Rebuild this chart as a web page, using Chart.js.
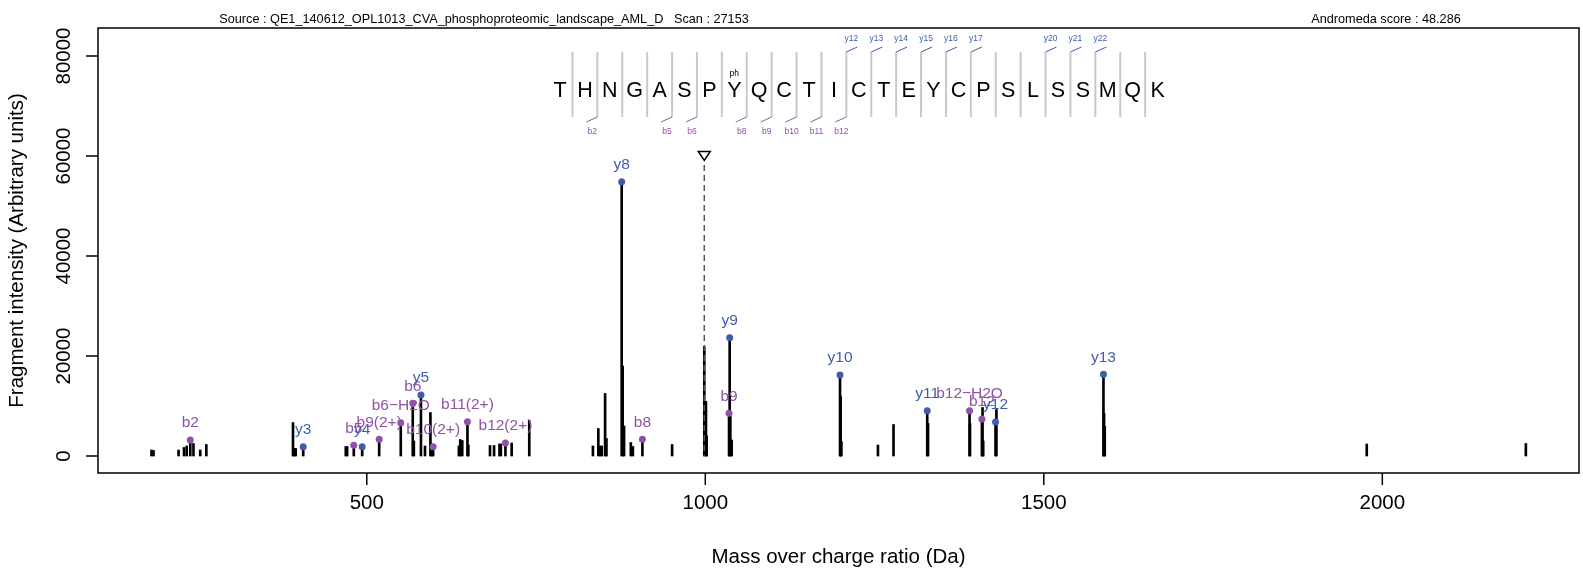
<!DOCTYPE html>
<html>
<head>
<meta charset="utf-8">
<script src="https://cdn.jsdelivr.net/npm/chart.js@4.4.0/dist/chart.umd.min.js"></script>
<style>
  html, body { margin: 0; padding: 0; background: #fff; }
  canvas { display: block; }
</style>
</head>
<body>
<canvas id="spectrum" width="1583" height="569"></canvas>
<script>
// unannotated fragment peaks (m/z, intensity)
const peakMz = [182, 185, 222, 230, 234, 244, 254, 263, 391, 393, 395, 469, 471, 569.5,
  586, 594, 596, 636, 638, 641, 650, 682, 688, 696, 698, 714, 740, 834, 842, 845, 847,
  852, 854, 878, 880, 890, 893, 951, 998.5, 1001, 1002, 1037, 1039, 1200, 1201, 1255,
  1278, 1329, 1391, 1409.5, 1410.5, 1430, 1589, 1590, 1977, 2212];
const peakIntensity = [1200, 1100, 1200, 1700, 2000, 2500, 1200, 2300, 6700, 1500, 1500,
  1900, 1900, 3000, 2000, 8700, 1000, 2000, 3300, 3100, 2200, 2100, 2100, 2400, 2400,
  2600, 7100, 2000, 5500, 2000, 2000, 12500, 3500, 18000, 6000, 2700, 1900, 2300, 21900,
  10900, 4000, 8000, 3200, 11900, 2900, 2200, 6300, 6500, 6500, 9700, 3000, 9300, 8500,
  5900, 2400, 2500];

// annotated ions
const ionLabels = ['b2', 'y3', 'b5', 'y4', 'b9(2+)', 'b6\u2212H2O', 'b6', 'y5', 'b10(2+)',
  'b11(2+)', 'b12(2+)', 'y8', 'b8', 'b9', 'y9', 'y10', 'y11', 'b12\u2212H2O', 'b12', 'y12', 'y13'];
const ionMz = [239.3, 406.1, 480.8, 493.2, 518.3, 550.2, 567.9, 580.0, 598.0, 648.7, 704.8,
  876.5, 907.1, 1035.1, 1036.0, 1199.0, 1327.8, 1390.3, 1408.6, 1428.7, 1588.1];
const ionIntensity = [3200, 1870, 2130, 1870, 3330, 6670, 10530, 12200, 1870, 6870, 2600,
  54850, 3330, 8530, 23670, 16200, 9070, 9070, 7400, 6800, 16330];

const xTicks = [500, 1000, 1500, 2000];
const yTicks = [0, 20000, 40000, 60000, 80000];

const sequence = ['T','H','N','G','A','S','P','Y','Q','C','T','I','C','T','E','Y','C','P','S','L','S','S','M','Q','K'];
const phosphoSite = 7;
const yFragments = [12, 13, 14, 15, 16, 17, 20, 21, 22];
const bFragments = [2, 5, 6, 8, 9, 10, 11, 12];

const precursorMz = 998.5;
const precursorMark = 60000;

const sourceText = 'Source : QE1_140612_OPL1013_CVA_phosphoproteomic_landscape_AML_D   Scan : 27153';
const scoreText = 'Andromeda score : 48.286';

const Y_COL = '#3F5DAB';
const B_COL = '#8E53A8';
const FONT = '"Liberation Sans", Arial, Helvetica, sans-serif';

const ionColor = ionLabels.map(l => l[0] === 'y' ? Y_COL : B_COL);

const allPeaks = peakMz.map((m, i) => ({ x: m, y: peakIntensity[i] }))
  .concat(ionMz.map((m, i) => ({ x: m, y: ionIntensity[i] })));

// R-style box, axes, sequence header and ion labels
const decorPlugin = {
  id: 'decor',
  afterDatasetsDraw(chart) {
    const { ctx, chartArea: a, scales: { x, y } } = chart;
    ctx.save();

    // precursor dashed line + triangle
    const px = x.getPixelForValue(precursorMz);
    const pt = y.getPixelForValue(precursorMark);
    ctx.strokeStyle = '#555';
    ctx.lineWidth = 1.5;
    ctx.setLineDash([6, 4]);
    ctx.beginPath();
    ctx.moveTo(px, pt + 9);
    ctx.lineTo(px, y.getPixelForValue(0));
    ctx.stroke();
    ctx.setLineDash([]);
    ctx.strokeStyle = '#000';
    ctx.beginPath();
    ctx.moveTo(px - 6, pt - 4.5);
    ctx.lineTo(px + 6, pt - 4.5);
    ctx.lineTo(px, pt + 4.5);
    ctx.closePath();
    ctx.stroke();

    // ion labels
    ctx.font = '15.5px ' + FONT;
    ctx.textAlign = 'center';
    ctx.textBaseline = 'middle';
    ionLabels.forEach((lab, i) => {
      ctx.fillStyle = ionColor[i];
      ctx.fillText(lab, x.getPixelForValue(ionMz[i]), y.getPixelForValue(ionIntensity[i]) - 17);
    });

    // box
    ctx.strokeStyle = '#000';
    ctx.lineWidth = 1.5;
    ctx.strokeRect(a.left, a.top, a.right - a.left, a.bottom - a.top);

    // axes
    ctx.fillStyle = '#000';
    ctx.font = '20.5px ' + FONT;
    xTicks.forEach(v => {
      const p = x.getPixelForValue(v);
      ctx.beginPath(); ctx.moveTo(p, a.bottom); ctx.lineTo(p, a.bottom + 12); ctx.stroke();
      ctx.fillText(String(v), p, a.bottom + 30);
    });
    yTicks.forEach(v => {
      const p = y.getPixelForValue(v);
      ctx.beginPath(); ctx.moveTo(a.left - 12, p); ctx.lineTo(a.left, p); ctx.stroke();
      ctx.save();
      ctx.translate(a.left - 34, p);
      ctx.rotate(-Math.PI / 2);
      ctx.fillText(String(v), 0, 0);
      ctx.restore();
    });
    ctx.fillText('Mass over charge ratio (Da)', (a.left + a.right) / 2, a.bottom + 84);
    ctx.save();
    ctx.translate(17, (a.top + a.bottom) / 2);
    ctx.rotate(-Math.PI / 2);
    ctx.fillText('Fragment intensity (Arbitrary units)', 0, 0);
    ctx.restore();

    // header
    ctx.font = '12.7px ' + FONT;
    ctx.fillText(sourceText, 484, 19.5);
    ctx.fillText(scoreText, 1386, 19.5);

    // peptide sequence
    const x0 = 560, step = 24.9, top = 52, bot = 117;
    ctx.strokeStyle = '#c8c8c8';
    ctx.lineWidth = 2;
    for (let i = 1; i < sequence.length; i++) {
      const sx = x0 + (i - 0.5) * step;
      ctx.beginPath(); ctx.moveTo(sx, top); ctx.lineTo(sx, bot); ctx.stroke();
    }
    ctx.font = '21.5px ' + FONT;
    ctx.fillStyle = '#000';
    sequence.forEach((s, i) => ctx.fillText(s, x0 + i * step, 91));
    ctx.font = '8.5px ' + FONT;
    ctx.fillText('ph', x0 + phosphoSite * step, 73.5);

    ctx.lineWidth = 1;
    yFragments.forEach(k => {
      const sx = x0 + (k - 0.5) * step;
      ctx.strokeStyle = Y_COL;
      ctx.beginPath(); ctx.moveTo(sx, top); ctx.lineTo(sx + 11, top - 5); ctx.stroke();
      ctx.fillStyle = Y_COL;
      ctx.fillText('y' + k, sx + 5, 38.5);
    });
    bFragments.forEach(k => {
      const sx = x0 + (k - 0.5) * step;
      ctx.strokeStyle = B_COL;
      ctx.beginPath(); ctx.moveTo(sx - 11, bot + 5); ctx.lineTo(sx, bot); ctx.stroke();
      ctx.fillStyle = B_COL;
      ctx.fillText('b' + k, sx - 5, 131.5);
    });

    ctx.restore();
  }
};

new Chart(document.getElementById('spectrum'), {
  type: 'bar',
  data: {
    datasets: [
      {
        type: 'scatter',
        data: ionMz.map((m, i) => ({ x: m, y: ionIntensity[i] })),
        backgroundColor: ionColor,
        borderWidth: 0,
        pointRadius: 3.5,
        order: 0
      },
      {
        data: allPeaks,
        backgroundColor: '#000',
        barThickness: 2,
        order: 1
      }
    ]
  },
  options: {
    responsive: false,
    animation: false,
    devicePixelRatio: 1,
    events: [],
    layout: { padding: { left: 98, top: 28, right: 3, bottom: 96 } },
    scales: {
      x: { type: 'linear', min: 103, max: 2290.5, offset: false, display: false },
      y: { type: 'linear', min: -3400, max: 85600, display: false }
    },
    plugins: { legend: { display: false }, tooltip: { enabled: false } }
  },
  plugins: [decorPlugin]
});
</script>
</body>
</html>
